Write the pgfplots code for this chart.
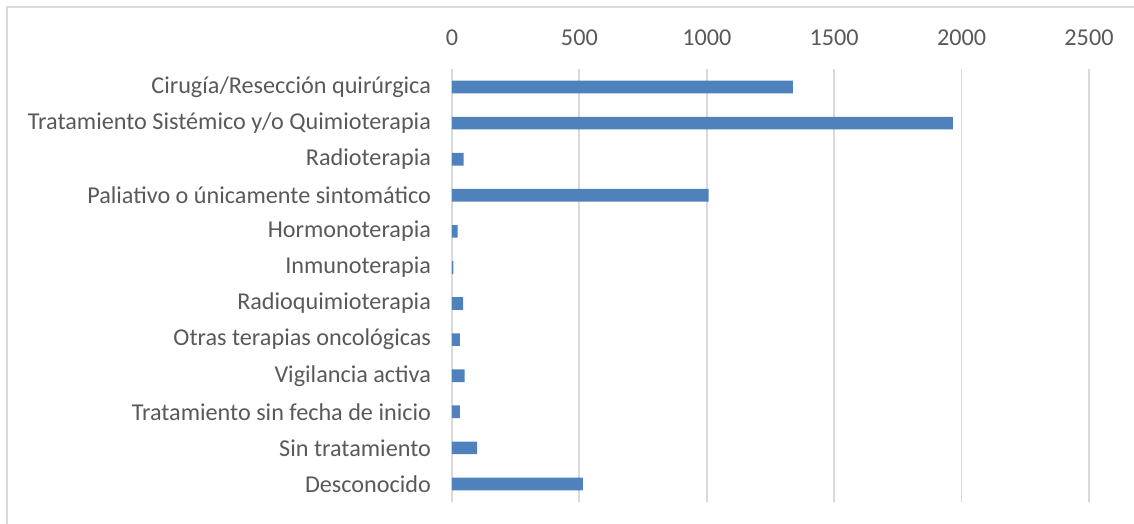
\documentclass[border=0pt]{standalone}
\usepackage{fontspec}
\setmainfont{Carlito}
\usepackage{pgfplots}
\pgfplotsset{compat=1.18}
\definecolor{barblue}{HTML}{4F81BD}
\definecolor{txtgray}{HTML}{595959}
\definecolor{gridgray}{HTML}{D9D9D9}

\begin{document}
\begin{tikzpicture}
\useasboundingbox (-226pt,-11pt) rectangle (341pt,251pt);
\draw[gridgray, line width=0.6pt] (-222.5pt,-11pt) -- (-222.5pt,247.5pt) -- (341pt,247.5pt);
\begin{axis}[
  at={(0,0)}, anchor=south west,
  scale only axis, width=318.5pt, height=216.5pt,
  xbar, bar width=6.35pt,
  xmin=0, xmax=2500,
  xtick={0,500,1000,1500,2000,2500},
  xticklabel pos=top,
  ymin=-0.5, ymax=11.5, y dir=reverse,
  ytick={0,...,11},
  yticklabels={Cirugía/Resección quirúrgica,
    Tratamiento Sistémico y/o Quimioterapia,
    Radioterapia,
    Paliativo o únicamente sintomático,
    Hormonoterapia,
    Inmunoterapia,
    Radioquimioterapia,
    Otras terapias oncológicas,
    Vigilancia activa,
    Tratamiento sin fecha de inicio,
    Sin tratamiento,
    Desconocido},
  axis line style={draw=none},
  major tick length=0pt,
  xmajorgrids, grid style={gridgray, line width=0.9pt},
  tick label style={font=\fontsize{12.1}{14}\selectfont, text=txtgray},
  /pgf/number format/assume math mode=true,
  /pgf/number format/1000 sep={},
  scaled x ticks=false,
  xticklabel style={yshift=8pt},
  yticklabel style={xshift=-7pt},
]
\addplot[fill=barblue, draw=none] coordinates {
  (1338,0) (1966,1) (46,2) (1007,3) (22,4) (5,5)
  (44,6) (31,7) (50,8) (31,9) (99,10) (514,11)
};
\end{axis}
\end{tikzpicture}
\end{document}
